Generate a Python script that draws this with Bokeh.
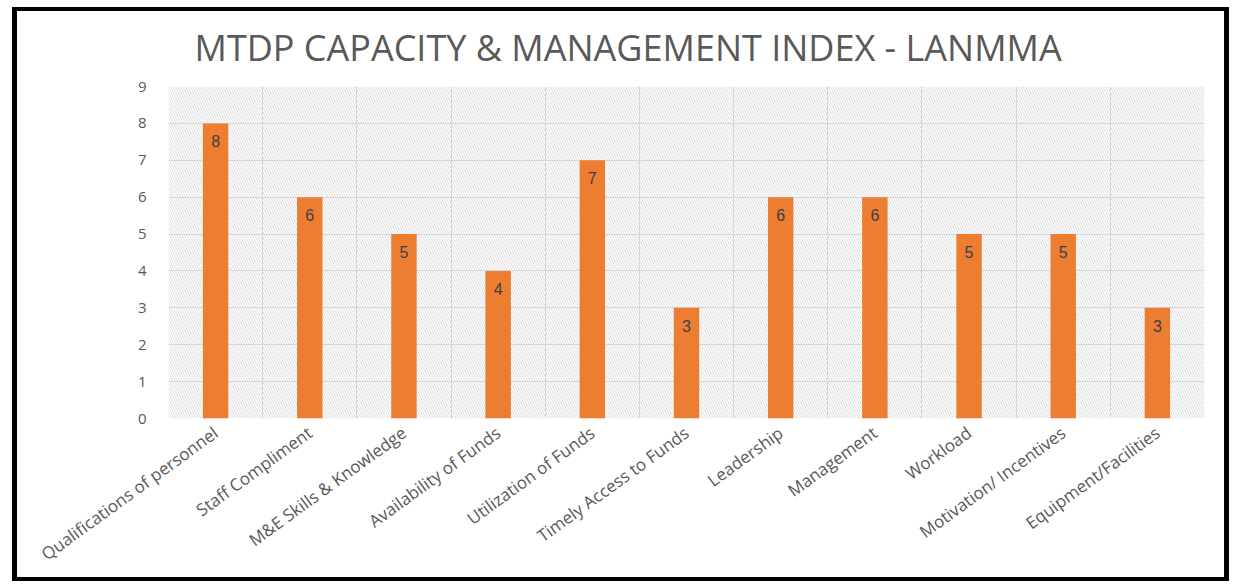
import math
from bokeh.plotting import figure
from bokeh.models import FactorRange, FixedTicker, BoxAnnotation, ColumnDataSource
from bokeh.embed import file_html
from bokeh.resources import INLINE

title_text = "MTDP CAPACITY & MANAGEMENT INDEX - LANMMA"
categories = ["Qualifications of personnel", "Staff Compliment", "M&E Skills & Knowledge",
              "Availability of Funds", "Utilization of Funds", "Timely Access to Funds",
              "Leadership", "Management", "Workload", "Motivation/ Incentives",
              "Equipment/Facilities"]
values = [8, 6, 5, 4, 7, 3, 6, 6, 5, 5, 3]
y_ticks = [0, 1, 2, 3, 4, 5, 6, 7, 8, 9]

src = ColumnDataSource(dict(cat=categories, val=values, lab=[str(v) for v in values]))

p = figure(width=1236, height=588, x_range=FactorRange(*categories),
           y_range=(min(y_ticks), max(y_ticks)),
           output_backend="svg", toolbar_location=None,
           min_border_left=168, min_border_right=32, min_border_top=86, min_border_bottom=170)
p.title.text = title_text
p.title.align = "left"
p.title.offset = 26
p.title.text_font = "Open Sans"
p.title.text_font_style = "normal"
p.title.text_font_size = "36px"
p.title.text_color = "#595959"
p.title.standoff = 30
p.outline_line_color = None
p.background_fill_color = "white"

# hatched plot background
p.add_layout(BoxAnnotation(fill_alpha=0, line_color=None, hatch_pattern="\\",
                           hatch_color="#dcdcdc", hatch_scale=5, hatch_weight=1,
                           level="image"))

p.vbar(x="cat", top="val", width=0.27, source=src, fill_color="#ED7D31", line_color=None)
p.text(x="cat", y="val", text="lab", source=src, text_align="center", text_baseline="top",
       y_offset=12, text_font_size="16px", text_color="#404040")

p.xgrid.ticker = FixedTicker(ticks=list(range(len(categories) + 1)))
p.xgrid.grid_line_color = "#d6d6d6"
p.ygrid.ticker = FixedTicker(ticks=y_ticks)
p.ygrid.grid_line_color = "#d6d6d6"

p.yaxis.ticker = FixedTicker(ticks=y_ticks)
for ax in (p.xaxis[0], p.yaxis[0]):
    ax.axis_line_color = None
    ax.major_tick_line_color = None
    ax.minor_tick_line_color = None
    ax.major_label_text_color = "#595959"
    ax.major_label_text_font = "Open Sans"
p.yaxis.major_label_text_font_size = "15px"
p.yaxis.major_label_standoff = 16
p.xaxis.major_label_text_font_size = "17px"
p.xaxis.major_label_orientation = math.radians(36)
p.xaxis.major_label_standoff = 6

html = file_html(p, INLINE)
# black picture frame drawn over the page
frame_div = ('<div style="position:fixed;left:12px;top:7px;width:1217px;height:574px;'
             'border-style:solid;border-color:black;border-width:4px 5px 4px 5px;'
             'box-sizing:border-box;pointer-events:none;z-index:1000"></div>')
html = html.replace("</body>", frame_div + "</body>", 1)
open("out.html", "w").write(html)
